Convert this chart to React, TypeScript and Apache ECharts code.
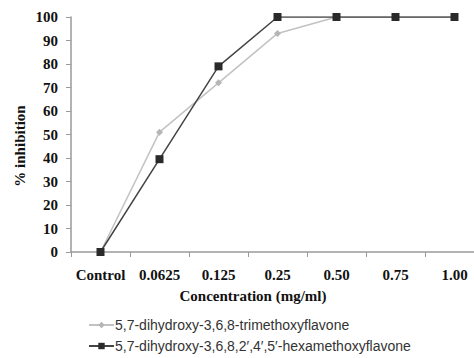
import React, { useEffect, useRef } from "react";
import * as echarts from "echarts";

const categories = ["Control", "0.0625", "0.125", "0.25", "0.50", "0.75", "1.00"];
const trimethoxy = [0, 51, 72, 93, 100, 100, 100];
const hexamethoxy = [0, 39.5, 79, 100, 100, 100, 100];
const seriesNames = [
  "5,7-dihydroxy-3,6,8-trimethoxyflavone",
  "5,7-dihydroxy-3,6,8,2\u2032,4\u2032,5\u2032-hexamethoxyflavone",
];

const serif = "'Liberation Serif', 'Times New Roman', serif";
const sans = "'Liberation Sans', Arial, sans-serif";

export default function App() {
  const ref = useRef<HTMLDivElement>(null);
  useEffect(() => {
    if (!ref.current) return;
    const chart = echarts.init(ref.current, null, { renderer: "svg" });
    chart.setOption({
      animation: false,
      backgroundColor: "#ffffff",
      grid: { left: 71, top: 17, width: 413, height: 235 },
      xAxis: {
        type: "category",
        data: categories,
        boundaryGap: true,
        axisLine: { lineStyle: { color: "#9a9a9a", width: 1.5 } },
        axisTick: { show: true, length: 5, lineStyle: { color: "#9a9a9a" } },
        axisLabel: {
          margin: 15,
          color: "#111",
          fontFamily: serif,
          fontWeight: "bold",
          fontSize: 15,
          interval: 0,
        },
        splitLine: { show: false },
      },
      yAxis: {
        type: "value",
        min: 0,
        max: 100,
        interval: 10,
        axisLine: { show: true, lineStyle: { color: "#9a9a9a", width: 1.5 } },
        axisTick: { show: true, length: 5, lineStyle: { color: "#9a9a9a" } },
        axisLabel: {
          margin: 13,
          color: "#111",
          fontFamily: serif,
          fontWeight: "bold",
          fontSize: 15,
        },
        splitLine: { show: false },
      },
      legend: {
        orient: "vertical",
        left: 88,
        top: 318,
        padding: 0,
        itemGap: 7,
        itemWidth: 25,
        itemHeight: 8,
        textStyle: { fontFamily: sans, fontSize: 14, color: "#333", padding: [0, 0, 0, -4] },
        data: seriesNames,
      },
      graphic: [
        {
          type: "text",
          x: 20,
          y: 146,
          rotation: Math.PI / 2,
          style: {
            text: "% inhibition",
            fontFamily: serif,
            fontWeight: "bold",
            fontSize: 15,
            fill: "#111",
            align: "center",
            verticalAlign: "middle",
          },
        },
        {
          type: "text",
          x: 253,
          y: 296,
          style: {
            text: "Concentration (mg/ml)",
            fontFamily: serif,
            fontWeight: "bold",
            fontSize: 15,
            fill: "#111",
            align: "center",
            verticalAlign: "middle",
          },
        },
      ],
      series: [
        {
          name: seriesNames[0],
          type: "line",
          data: trimethoxy,
          symbol: "diamond",
          symbolSize: 7,
          lineStyle: { color: "#c2c2c2", width: 1.5 },
          itemStyle: { color: "#b5b5b5" },
          z: 2,
        },
        {
          name: seriesNames[1],
          type: "line",
          data: hexamethoxy,
          symbol: "rect",
          symbolSize: 8,
          lineStyle: { color: "#444444", width: 1.5 },
          itemStyle: { color: "#2a2a2a" },
          z: 3,
        },
      ],
    });
    return () => chart.dispose();
  }, []);
  return (
    <div
      style={{
        position: "fixed",
        left: 0,
        top: 0,
        width: 474,
        height: 358,
        overflow: "hidden",
        background: "#fff",
      }}
    >
      <div ref={ref} style={{ width: 500, height: 358 }} />
    </div>
  );
}
